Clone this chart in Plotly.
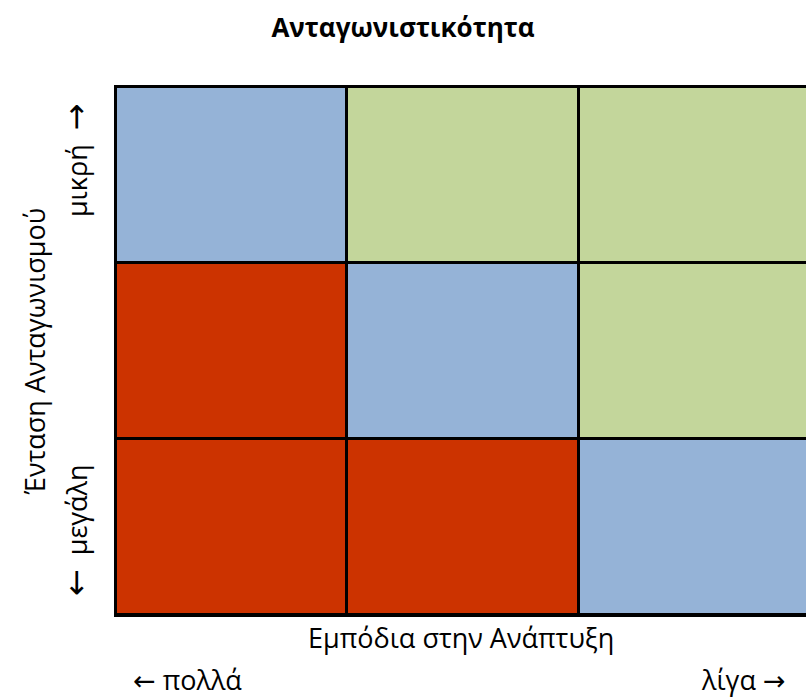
import plotly.graph_objects as go

# Data
barriers = ["πολλά", "μέτρια", "λίγα"]          # x categories (Εμπόδια στην Ανάπτυξη)
intensity = ["μεγάλη", "μέτρια", "μικρή"]        # y categories (Ένταση Ανταγωνισμού), bottom -> top
# competitiveness level per cell: 0 = low (red), 1 = medium (blue), 2 = high (green)
levels = [
    [0, 0, 1],   # μεγάλη
    [0, 1, 2],   # μέτρια
    [1, 2, 2],   # μικρή
]

RED = "#CC3300"
BLUE = "#95B3D7"
GREEN = "#C3D69B"
FONT = "Open Sans"
SIZE = 27
TSIZE = 26
ARW = '<span style="font-family:DejaVu Sans;font-size:32px">{}</span>'
ARW_B = '<span style="font-family:DejaVu Sans">{}</span>'

W, H = 812, 700          # grid runs a little past the 806px window, as in the reference
L, T, B = 116, 87, 85
PW, PH = W - L, H - T - B

fig = go.Figure(go.Heatmap(
    x=barriers, y=intensity, z=levels,
    zmin=-0.5, zmax=2.5,
    colorscale=[[0, RED], [1/3, RED], [1/3, BLUE], [2/3, BLUE], [2/3, GREEN], [1, GREEN]],
    showscale=False, xgap=3, ygap=3, hoverinfo="skip",
))

fig.update_layout(
    width=W, height=H,
    margin=dict(l=L, r=0, t=T, b=B),
    paper_bgcolor="white", plot_bgcolor="black",
    font=dict(family=FONT, size=SIZE, color="black"),
    title=dict(text="<b>Ανταγωνιστικότητα</b>", x=403/W, xref="container", xanchor="center",
               y=1 - 28/H, yref="container", yanchor="middle",
               font=dict(family=FONT, size=TSIZE)),
    showlegend=False,
)

fig.update_xaxes(type="category", range=[-0.5, 2.5], showticklabels=False, ticks="",
                 showgrid=False, zeroline=False, showline=True, linecolor="black",
                 linewidth=2, mirror=True, fixedrange=True)
fig.update_yaxes(type="category", range=[-0.5, 2.5], showticklabels=False, ticks="",
                 showgrid=False, zeroline=False, showline=True, linecolor="black",
                 linewidth=2, mirror=True, fixedrange=True)

ann = [
    dict(text="Εμπόδια στην Ανάπτυξη", x=(462-L)/PW, y=-22/PH, xanchor="center", yanchor="middle"),
    dict(text=ARW_B.format("←") + " πολλά", x=(188-L)/PW, y=-64/PH, xanchor="center", yanchor="middle"),
    dict(text="λίγα " + ARW_B.format("→"), x=(745-L)/PW, y=-64/PH, xanchor="center", yanchor="middle"),
    dict(text="Ένταση Ανταγωνισμού", x=(34-L)/PW, y=(615-352)/PH, xanchor="center",
         yanchor="middle", textangle=-90),
    dict(text="μικρή  " + ARW.format("→"), x=(76-L)/PW, y=(615-160)/PH, xanchor="center",
         yanchor="middle", textangle=-90),
    dict(text=ARW.format("←") + "  μεγάλη", x=(76-L)/PW, y=(615-530)/PH, xanchor="center",
         yanchor="middle", textangle=-90),
]
for a in ann:
    fig.add_annotation(xref="paper", yref="paper", showarrow=False,
                       font=dict(family=FONT, size=SIZE, color="black"), **a)

fig.write_html("out.html", config={"displayModeBar": False},
               post_script="document.body.style.margin='0';document.body.style.overflow='hidden';")
